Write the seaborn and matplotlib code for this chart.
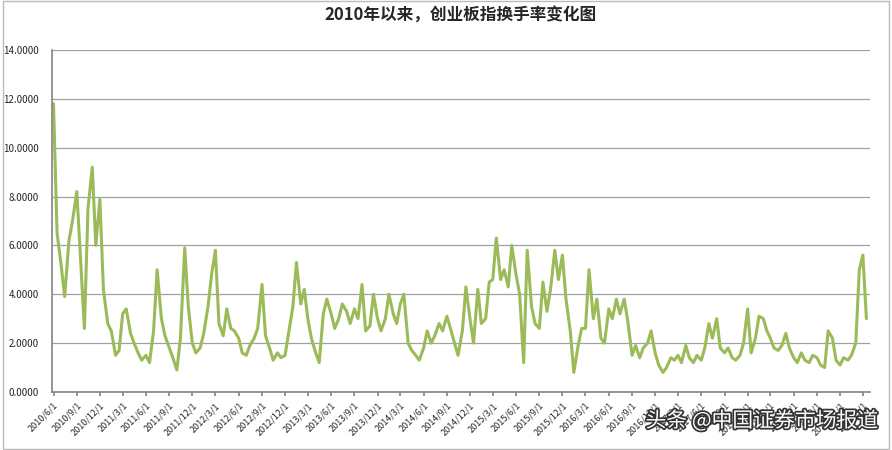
import matplotlib
matplotlib.use("Agg")
import matplotlib.pyplot as plt
import matplotlib.dates as mdates
import matplotlib.patheffects as pe
import seaborn as sns
import pandas as pd
import numpy as np

sns.set_theme(style="white")
plt.rcParams['font.family'] = ['Noto Sans CJK SC', 'DejaVu Sans']

v2010 = [11.8, 6.5, 5.2, 3.9, 6.2, 7.0, 8.2, 5.6, 2.6, 7.5, 9.2, 6.0, 7.9, 4.2]
v2011 = [2.8, 2.5, 1.5, 1.7, 3.2, 3.4, 2.4, 2.0, 1.6, 1.3, 1.5, 1.2, 2.5, 5.0, 3.0, 2.3, 1.8, 1.4, 0.9, 2.2, 5.9, 3.5, 2.0, 1.6]
v2012 = [1.8, 2.4, 3.5, 4.8, 5.8, 2.8, 2.3, 3.4, 2.6, 2.5, 2.2, 1.6, 1.5, 1.9, 2.2, 2.6, 4.4, 2.3, 1.8, 1.3, 1.6, 1.4, 1.5, 2.4]
v2013 = [3.5, 5.3, 3.6, 4.2, 3.0, 2.2, 1.6, 1.2, 3.2, 3.8, 3.2, 2.6, 3.0, 3.6, 3.3, 2.8, 3.4, 3.0, 4.4, 2.5, 2.7, 4.0, 3.0, 2.5]
v2014 = [3.0, 4.0, 3.2, 2.8, 3.6, 4.0, 2.0, 1.7, 1.5, 1.3, 1.8, 2.5, 2.0, 2.3, 2.8, 2.5, 3.1, 2.6, 2.0, 1.5, 2.5, 4.3, 3.0, 2.0]
v2015 = [4.2, 2.8, 3.0, 4.5, 4.6, 6.3, 4.6, 5.0, 4.3, 6.0, 4.8, 4.0, 1.2, 5.8, 3.5, 2.8, 2.6, 4.5, 3.3, 4.2, 5.8, 4.6, 5.6, 3.8]
v2016 = [2.5, 0.8, 1.9, 2.6, 2.6, 5.0, 3.0, 3.8, 2.2, 2.0, 3.4, 3.0, 3.8, 3.2, 3.8, 2.9, 1.5, 1.9, 1.4, 1.8, 2.0, 2.5, 1.6, 1.1]
v2017 = [0.8, 1.0, 1.4, 1.3, 1.5, 1.2, 1.9, 1.4, 1.2, 1.5, 1.3, 1.8, 2.8, 2.2, 3.0, 1.8, 1.6, 1.8, 1.4, 1.3, 1.5, 2.0, 3.4, 1.6]
v2018 = [2.2, 3.1, 3.0, 2.5, 2.2, 1.8, 1.7, 1.9, 2.4, 1.8, 1.4, 1.2, 1.6, 1.3, 1.2, 1.5, 1.4, 1.1, 1.0, 2.5, 2.2, 1.3, 1.1, 1.4]
v2019 = [1.3, 1.5, 2.0, 5.0, 5.6, 3.0]

values = v2010 + v2011 + v2012 + v2013 + v2014 + v2015 + v2016 + v2017 + v2018 + v2019
dates = pd.date_range("2010-06-01", "2019-03-16", freq="SMS")
df = pd.DataFrame({"date": dates[:len(values)], "rate": values})

tick_dates = pd.date_range("2010-06-01", "2019-03-01", freq="3MS")
tick_labels = [f"{d.year}/{d.month}/1" for d in tick_dates]
yticks = [0, 2, 4, 6, 8, 10, 12, 14]

fig = plt.figure(figsize=(8.92, 4.5), dpi=100)
ax = fig.add_axes([0.058, 0.129, 0.917, 0.76])
sns.lineplot(data=df, x="date", y="rate", ax=ax, color="#9BBB59", linewidth=2.2)
ax.set_xlim(pd.Timestamp("2010-05-25"), pd.Timestamp("2019-03-28"))
ax.set_ylim(0, 14)
ax.set_yticks(yticks)
ax.set_yticklabels([f"{y:.4f}" for y in yticks], fontsize=7)
ax.set_xticks(tick_dates)
ax.set_xticklabels(tick_labels, rotation=45, ha="right", fontsize=6.5, rotation_mode="anchor")
ax.yaxis.grid(True, color="#a0a0a0", linewidth=0.9)
ax.set_xlabel("")
ax.set_ylabel("")
for s in ["top", "right"]:
    ax.spines[s].set_visible(False)
ax.spines["left"].set_color("#888888")
ax.spines["bottom"].set_color("#888888")
ax.tick_params(axis="x", length=3, color="#888888", bottom=True)
ax.set_title("2010年以来，创业板指换手率变化图", fontsize=12, fontweight="bold", pad=22)
fig.text(0.985, 0.04, "头条 @中国证券市场报道", ha="right", va="bottom", fontsize=15,
         color="white", path_effects=[pe.withStroke(linewidth=2.5, foreground="#333333")])
fig.patches.append(plt.Rectangle((0.003, 0.003), 0.994, 0.994, transform=fig.transFigure,
                                 fill=False, edgecolor="#bbbbbb", linewidth=1))
fig.savefig("out.png", dpi=100)
